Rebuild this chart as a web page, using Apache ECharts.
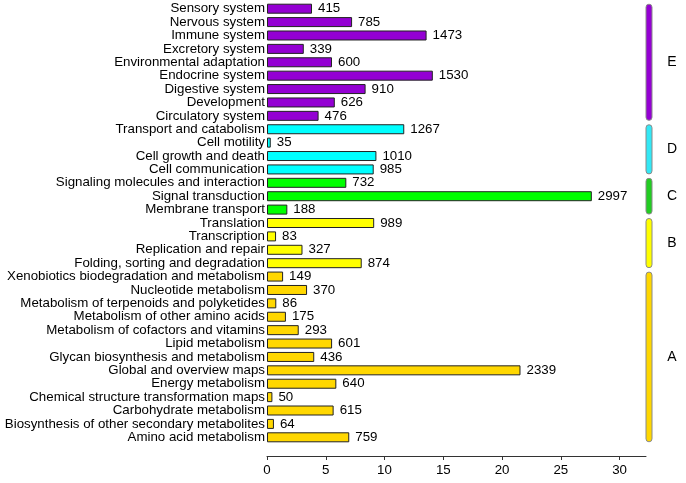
<!DOCTYPE html>
<html>
<head>
<meta charset="utf-8">
<script src="https://cdn.jsdelivr.net/npm/echarts@6/dist/echarts.min.js"></script>
<style>
html,body{margin:0;padding:0;background:#fff;}
#chart{width:686px;height:483px;}
</style>
</head>
<body>
<div id="chart"></div>
<script>
// KEGG pathway categories, bottom to top
var categories = [
  'Amino acid metabolism','Biosynthesis of other secondary metabolites','Carbohydrate metabolism',
  'Chemical structure transformation maps','Energy metabolism','Global and overview maps',
  'Glycan biosynthesis and metabolism','Lipid metabolism','Metabolism of cofactors and vitamins',
  'Metabolism of other amino acids','Metabolism of terpenoids and polyketides','Nucleotide metabolism',
  'Xenobiotics biodegradation and metabolism',
  'Folding, sorting and degradation','Replication and repair','Transcription','Translation',
  'Membrane transport','Signal transduction','Signaling molecules and interaction',
  'Cell communication','Cell growth and death','Cell motility','Transport and catabolism',
  'Circulatory system','Development','Digestive system','Endocrine system','Environmental adaptation',
  'Excretory system','Immune system','Nervous system','Sensory system'
];
// number of unigenes (bar labels)
var counts = [759,64,615,50,640,2339,436,601,293,175,86,370,149,
  874,327,83,989,
  188,2997,732,
  985,1010,35,1267,
  476,626,910,1530,600,339,1473,785,415];
// percent (bar length, x axis)
var percents = [7.00,0.59,5.67,0.46,5.90,21.57,4.02,5.54,2.70,1.61,0.79,3.41,1.37,
  8.06,3.02,0.77,9.12,
  1.73,27.64,6.75,
  9.08,9.31,0.32,11.68,
  4.39,5.77,8.39,14.11,5.53,3.13,13.58,7.24,3.83];
// group of each category
var groupOf = ['A','A','A','A','A','A','A','A','A','A','A','A','A',
  'B','B','B','B','C','C','C','D','D','D','D',
  'E','E','E','E','E','E','E','E','E'];
var groupNames = ['A','B','C','D','E'];
var groupStart = [0,13,17,20,24];
var groupEnd = [12,16,19,23,32];
var barColors = {A:'#FFD700',B:'#FFFF00',C:'#00FF00',D:'#00FFFF',E:'#9400D3'};
var bracketColors = {A:'#FFD700',B:'#FFFF00',C:'#22CC22',D:'#33E8F5',E:'#9400D3'};
var xTicks = [0,5,10,15,20,25,30];

var font = 'Arial, "Liberation Sans", sans-serif';
var chart = echarts.init(document.getElementById('chart'));

var barData = percents.map(function(v,i){
  return {value:v, itemStyle:{color:barColors[groupOf[i]]}};
});
var bracketData = groupNames.map(function(g,i){
  return [groupStart[i], groupEnd[i], i];
});

var option = {
  animation:false,
  grid:{left:267,right:40,top:2,bottom:39},
  xAxis:{
    type:'value',min:0,max:32.25,interval:5,offset:12,
    splitLine:{show:false},
    axisLine:{show:true,lineStyle:{color:'#333',width:1}},
    axisTick:{show:true,length:4,lineStyle:{color:'#333'},customValues:xTicks},
    axisLabel:{color:'#000',fontSize:13.3,fontFamily:font,margin:8,customValues:xTicks}
  },
  yAxis:{
    type:'category',data:categories,
    axisLine:{show:false},axisTick:{show:false},
    axisLabel:{color:'#000',fontSize:13.3,fontFamily:font,margin:2,interval:0}
  },
  series:[{
    type:'bar',data:barData,barWidth:10,
    itemStyle:{borderColor:'#222',borderWidth:1},
    label:{show:true,position:'right',distance:6,color:'#000',fontSize:13.3,fontFamily:font,
      formatter:function(p){return counts[p.dataIndex];}}
  },{
    type:'custom',data:bracketData,clip:false,silent:true,
    renderItem:function(params,api){
      var g = groupNames[api.value(2)];
      var top = api.coord([32.25, api.value(1)]);
      var bot = api.coord([32.25, api.value(0)]);
      var x = top[0] + 3;
      var y1 = top[1] - 4.5, y2 = bot[1] + 4.5;
      return {type:'group',children:[
        {type:'rect',shape:{x:x-3,y:y1,width:6,height:y2-y1,r:3},
          style:{fill:bracketColors[g],stroke:'#8a8a8a',lineWidth:1}},
        {type:'text',x:x+23,y:(y1+y2)/2,
          style:{text:g,fill:'#000',fontSize:14,fontFamily:font,align:'center',verticalAlign:'middle'}}
      ]};
    }
  }]
};
chart.setOption(option);
</script>
</body>
</html>
